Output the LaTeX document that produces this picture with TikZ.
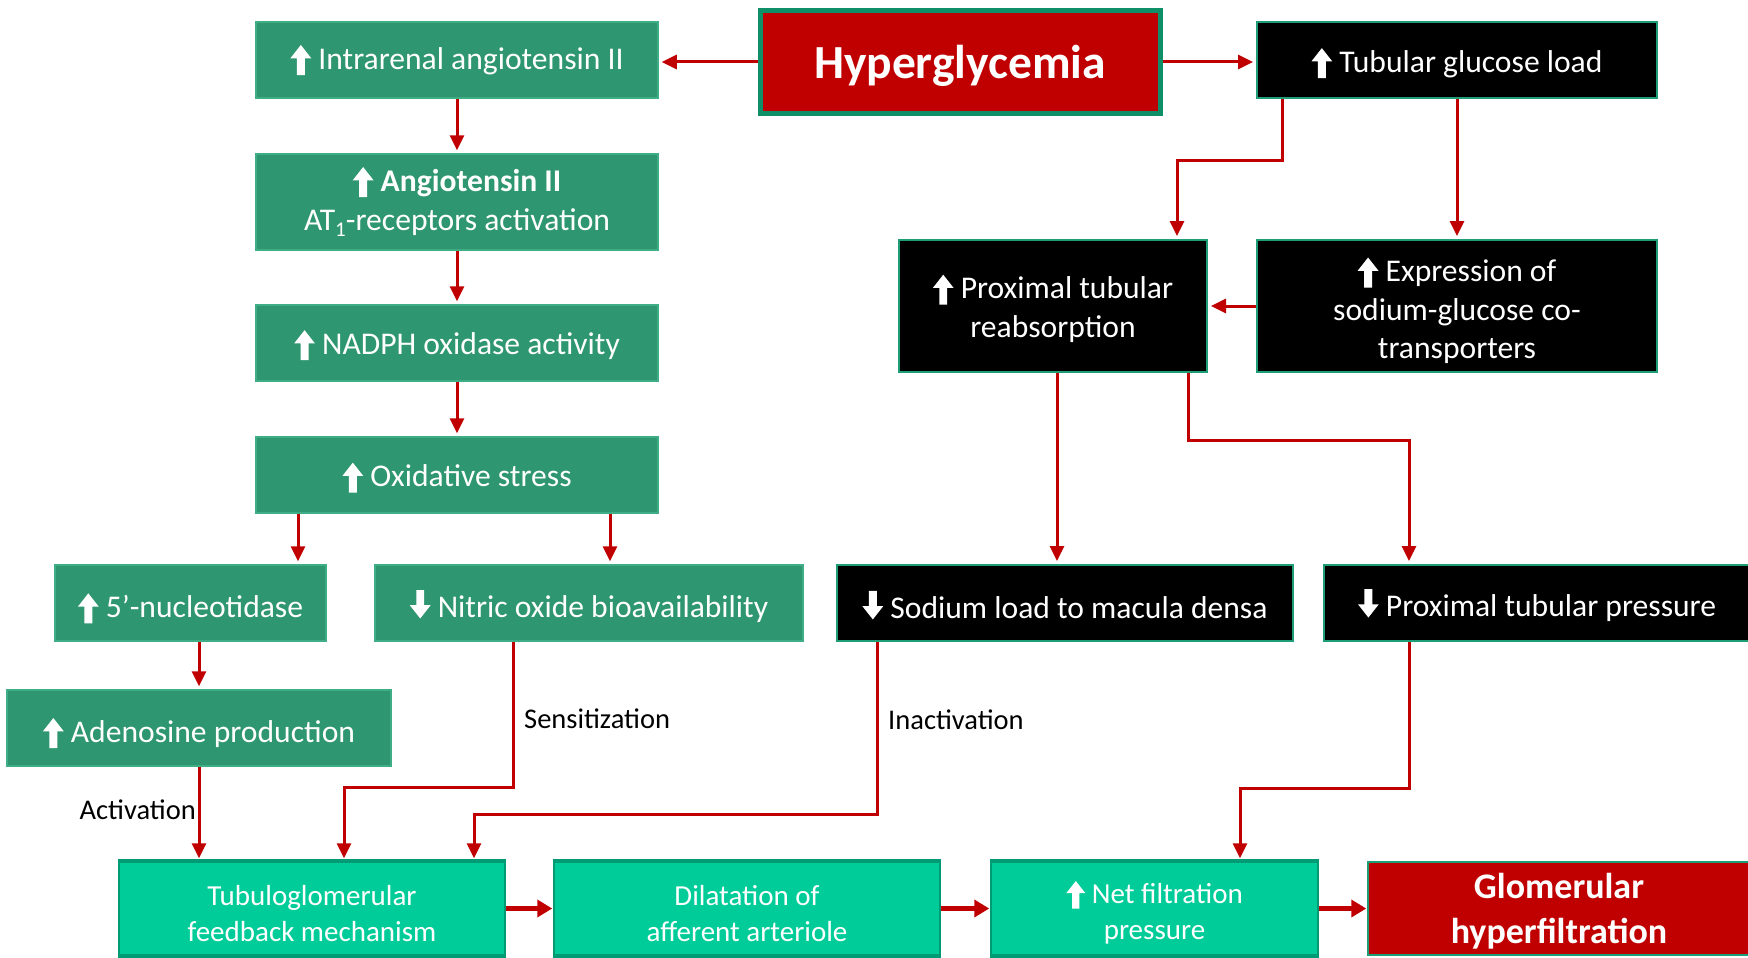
\documentclass[tikz,border=0pt]{standalone}
\usepackage{fontspec}
\setmainfont{Carlito}
\usetikzlibrary{arrows.meta}
\definecolor{gfill}{HTML}{2E9670}
\definecolor{gedge}{HTML}{3FAE86}
\definecolor{bedge}{HTML}{1E9E76}
\definecolor{redf}{HTML}{C00000}
\definecolor{hedge}{HTML}{0E8F68}
\definecolor{tfill}{HTML}{00CC99}
\definecolor{tedge}{HTML}{009B74}
\definecolor{conncol}{HTML}{C00000}
\newcommand\uparw{\tikz[baseline=0pt,x=1em,y=1em]\fill[white] (-0.125,-0.19) -- (0.125,-0.19) -- (0.125,0.34) -- (0.33,0.34) -- (0,0.76) -- (-0.33,0.34) -- (-0.125,0.34) -- cycle;}
\newcommand\dnarw{\tikz[baseline=0pt,x=1em,y=1em]\fill[white] (-0.125,0.88) -- (0.125,0.88) -- (0.125,0.40) -- (0.33,0.40) -- (0,-0.02) -- (-0.33,0.40) -- (-0.125,0.40) -- cycle;}
\newcommand\lowerstrut[1]{\rule{0pt}{#1em}}
\tikzset{
  boxbase/.style={rectangle, inner sep=0pt, align=center, text=white},
  sh/.style={execute at begin node=\lowerstrut{#1}},
  gbox/.style={boxbase, fill=gfill, draw=gedge, line width=1.5pt, font=\fontsize{31.6}{39}\selectfont},
  bbox/.style={boxbase, fill=black, draw=bedge, line width=2pt, font=\fontsize{31.6}{38.5}\selectfont},
  hbox/.style={boxbase, fill=redf, draw=hedge, line width=5pt, font=\bfseries\fontsize{47.5}{50}\selectfont},
  tbox/.style={boxbase, fill=tfill, draw=tedge, line width=1.5pt, font=\fontsize{29}{36}\selectfont},
  rbox/.style={boxbase, fill=redf, draw=bedge, line width=1.5pt, font=\bfseries\fontsize{36}{45}\selectfont},
  tedgeline/.style={draw=tedge, line width=4pt},
  conn/.style={draw=conncol, line width=3pt, -{Triangle[length=15pt,width=14pt]}, shorten >=3pt},
  bigconn/.style={draw=conncol, line width=5pt, -{Triangle[length=15pt,width=17pt]}, shorten >=1pt},
  lbl/.style={inner sep=0pt, text=black, font=\fontsize{28.5}{34}\selectfont}
}
\begin{document}
\begin{tikzpicture}[x=1pt,y=-1pt]
\useasboundingbox (0,0) rectangle (1748,958);
% left column
\node[gbox, minimum width=402pt, minimum height=76pt] (intra) at (457,60) {\uparw\ Intrarenal angiotensin II};
\node[hbox, sh=0.85, minimum width=400pt, minimum height=102pt] (hyper) at (960,62) {Hyperglycemia};
\node[bbox, sh=0.96, minimum width=400pt, minimum height=76pt] (tgl) at (1457,60) {\uparw\ Tubular glucose load};
\node[gbox, minimum width=402pt, minimum height=96pt] (ang) at (457,202) {\uparw\ \textbf{Angiotensin II}\\AT\raisebox{-0.22em}{\fontsize{21}{21}\selectfont 1}-receptors activation};
\node[gbox, sh=0.9, minimum width=402pt, minimum height=76pt] (nadph) at (457,343) {\uparw\ NADPH oxidase activity};
\node[gbox, sh=0.93, minimum width=402pt, minimum height=76pt] (ox) at (457,475) {\uparw\ Oxidative stress};
\node[gbox, sh=1.1, minimum width=271pt, minimum height=76pt] (nuc) at (190.5,603) {\uparw\ 5’-nucleotidase};
\node[gbox, sh=1.1, minimum width=428pt, minimum height=76pt] (no) at (589,603) {\dnarw\ Nitric oxide bioavailability};
\node[gbox, sh=1.08, minimum width=384pt, minimum height=76pt] (ado) at (199,728) {\uparw\ Adenosine production};
% right column
\node[bbox, minimum width=308pt, minimum height=132pt] (ptr) at (1053,306) {\lowerstrut{0.92}\uparw\ Proximal tubular\\reabsorption};
\node[bbox, minimum width=400pt, minimum height=132pt] (sglt) at (1457,306) {\lowerstrut{1.05}\uparw\ Expression of\\sodium-glucose co-\\transporters};
\node[bbox, sh=1.02, minimum width=456pt, minimum height=76pt] (na) at (1065,603) {\dnarw\ Sodium load to macula densa};
\node[bbox, sh=1.04, minimum width=426pt, minimum height=76pt] (ptp) at (1537,603) {\dnarw\ Proximal tubular pressure};
% bottom row
\node[tbox, minimum width=386pt, minimum height=93pt] (tgf) at (312,908.5) {\lowerstrut{1.03}Tubuloglomerular\\feedback mechanism};
\node[tbox, minimum width=386pt, minimum height=93pt] (dil) at (747,908.5) {\lowerstrut{1.03}Dilatation of\\afferent arteriole};
\node[tbox, minimum width=327pt, minimum height=93pt] (net) at (1154.5,908.5) {\lowerstrut{1.03}\uparw\ Net filtration\\pressure};
\node[rbox, minimum width=382pt, minimum height=93pt] (glom) at (1559,908.5) {\lowerstrut{0.86}Glomerular\\hyperfiltration};
\foreach \b in {tgf,dil,net}{
  \draw[tedgeline] (\b.north west) -- (\b.north east);
  \draw[tedgeline] (\b.south west) -- (\b.south east);
}
% labels
\node[lbl, anchor=west] (sens) at (524,719) {Sensitization};
\node[lbl, anchor=west] (inact) at (888,720) {Inactivation};
\node[lbl, anchor=east] (act) at (196,810) {Activation};
% connectors
\draw[conn] (hyper.west) -- (hyper.west -| intra.east);
\draw[conn] (hyper.east) -- (hyper.east -| tgl.west);
\draw[conn] (intra.south) -- (ang.north);
\draw[conn] (ang.south) -- (nadph.north);
\draw[conn] (nadph.south) -- (ox.north);
\draw[conn] ([xshift=-159pt]ox.south) -- ([xshift=-159pt]ox.south |- nuc.north);
\draw[conn] ([xshift=153pt]ox.south) -- ([xshift=153pt]ox.south |- no.north);
\draw[conn] (nuc.south -| ado.north) -- (ado.north);
\draw[conn] (ado.south) -- (ado.south |- tgf.north);
\draw[conn] ([xshift=-76pt]no.south) |- ([xshift=32pt,yshift=74pt]tgf.north) -- ([xshift=32pt]tgf.north);
\draw[conn] ([xshift=-188pt]na.south) |- ([xshift=162pt,yshift=47pt]tgf.north) -- ([xshift=162pt]tgf.north);
\draw[conn] ([xshift=-128pt]ptp.south) |- ([xshift=85.5pt,yshift=73pt]net.north) -- ([xshift=85.5pt]net.north);
\draw[conn] ([xshift=-175pt]tgl.south) |- ([xshift=124pt,yshift=79pt]ptr.north) -- ([xshift=124pt]ptr.north);
\draw[conn] (tgl.south) -- (sglt.north);
\draw[conn] (sglt.west) -- (ptr.east);
\draw[conn] ([xshift=4pt]ptr.south) -- ([xshift=4pt]ptr.south |- na.north);
\draw[conn] ([xshift=135pt]ptr.south) |- ([xshift=-128pt,yshift=124pt]ptp.north) -- ([xshift=-128pt]ptp.north);
\draw[bigconn] (tgf.east) -- (dil.west);
\draw[bigconn] (dil.east) -- (net.west);
\draw[bigconn] (net.east) -- (glom.west);
\end{tikzpicture}
\end{document}
